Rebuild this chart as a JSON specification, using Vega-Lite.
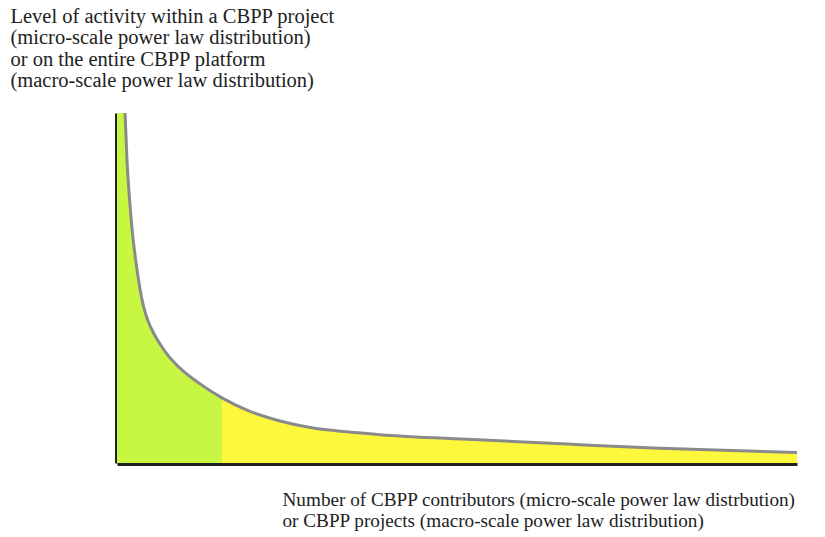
{
  "$schema": "https://vega.github.io/schema/vega-lite/v6.json",
  "width": 680,
  "height": 350,
  "autosize": {"type": "none"},
  "padding": {"left": 117, "top": 113, "right": 28, "bottom": 74},
  "background": "white",
  "config": {"view": {"stroke": null}},
  "data": {
    "values": [
      {"x": 0, "y": 100, "part": "green"},
      {"x": 1.18, "y": 100, "part": "green"},
      {"x": 1.47, "y": 86.6, "part": "green"},
      {"x": 1.91, "y": 73.7, "part": "green"},
      {"x": 2.35, "y": 64.3, "part": "green"},
      {"x": 2.79, "y": 57.4, "part": "green"},
      {"x": 3.24, "y": 51.4, "part": "green"},
      {"x": 3.68, "y": 46.6, "part": "green"},
      {"x": 4.26, "y": 42.3, "part": "green"},
      {"x": 5.0, "y": 38.6, "part": "green"},
      {"x": 6.03, "y": 34.9, "part": "green"},
      {"x": 7.35, "y": 31.1, "part": "green"},
      {"x": 9.26, "y": 27.1, "part": "green"},
      {"x": 12.21, "y": 22.6, "part": "green"},
      {"x": 15.44, "y": 18.6, "part": "green"},
      {"x": 15.44, "y": 18.6, "part": "yellow"},
      {"x": 19.12, "y": 15.1, "part": "yellow"},
      {"x": 23.97, "y": 12.0, "part": "yellow"},
      {"x": 28.82, "y": 10.0, "part": "yellow"},
      {"x": 33.82, "y": 8.9, "part": "yellow"},
      {"x": 38.68, "y": 8.1, "part": "yellow"},
      {"x": 52.35, "y": 6.7, "part": "yellow"},
      {"x": 66.18, "y": 5.4, "part": "yellow"},
      {"x": 79.85, "y": 4.2, "part": "yellow"},
      {"x": 100, "y": 3.0, "part": "yellow"}
    ]
  },
  "encoding": {
    "x": {
      "field": "x",
      "type": "quantitative",
      "scale": {"domain": [0, 100], "nice": false, "zero": false},
      "axis": {
        "grid": false, "ticks": false, "labels": false,
        "domainColor": "#222", "domainWidth": 3, "offset": 1,
        "title": ["Number of CBPP contributors (micro-scale power law distrbution)", "or CBPP projects (macro-scale power law distribution)"],
        "titleFont": "Liberation Serif", "titleFontSize": 19.2, "titleFontWeight": "normal",
        "titleColor": "#222", "titleAlign": "left", "titleAnchor": null,
        "titleX": 165, "titleY": 41, "titleBaseline": "alphabetic", "titleLineHeight": 21.5
      }
    },
    "y": {
      "field": "y",
      "type": "quantitative",
      "stack": null,
      "scale": {"domain": [0, 100], "nice": false, "zero": false},
      "axis": {
        "grid": false, "ticks": false, "labels": false,
        "domainColor": "#222", "domainWidth": 3, "offset": 1,
        "title": ["Level of activity within a CBPP project", "(micro-scale power law distribution)", "or on the entire CBPP platform", "(macro-scale power law distribution)"],
        "titleFont": "Liberation Serif", "titleFontSize": 20.5, "titleFontWeight": "normal",
        "titleColor": "#222", "titleAngle": 0, "titleAlign": "left", "titleAnchor": null,
        "titleX": -106, "titleY": -91, "titleBaseline": "alphabetic", "titleLineHeight": 21.5
      }
    }
  },
  "layer": [
    {
      "mark": {"type": "area", "interpolate": "monotone"},
      "encoding": {
        "color": {
          "field": "part",
          "type": "nominal",
          "scale": {"domain": ["green", "yellow"], "range": ["#c8f743", "#fef83c"]},
          "legend": null
        }
      }
    },
    {
      "transform": [{"filter": "datum.x > 0"}],
      "mark": {"type": "line", "interpolate": "monotone", "color": "#8a8a8a", "strokeWidth": 3},
      "encoding": {}
    }
  ]
}
